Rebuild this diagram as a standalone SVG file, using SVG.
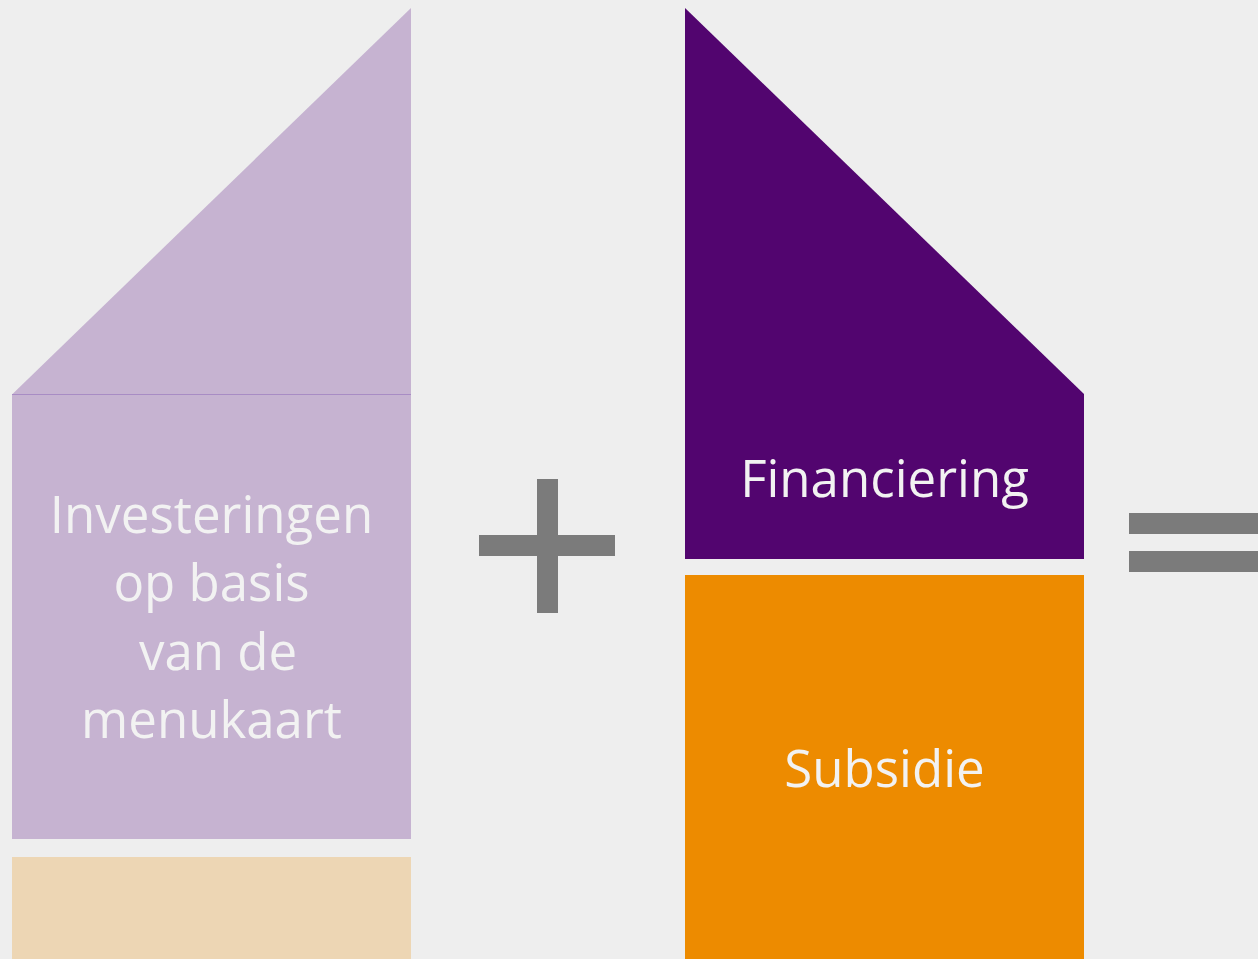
<svg xmlns="http://www.w3.org/2000/svg" width="1258" height="959" viewBox="0 0 1258 959">
<style>
.lbl{font-family:"Open Sans","Liberation Sans",sans-serif;font-size:51px;fill:#F2F2F2;text-anchor:middle}
.op{fill:#7B7B7B}
</style>
<rect x="0" y="0" width="1258" height="959" fill="#EEEEEE"/>
<g id="left-house">
<polygon points="12,394.5 411,8 411,394.5" fill="#C6B3D1"/>
<rect x="12" y="394" width="399" height="445" fill="#C6B3D1"/>
<line x1="12" y1="394.5" x2="411" y2="394.5" stroke="#A88CC4" stroke-width="1"/>
<text class="lbl"><tspan x="211.5" y="533">Investeringen</tspan><tspan x="211.5" y="601">op basis</tspan><tspan x="218" y="670">van de</tspan><tspan x="211.5" y="738">menukaart</tspan></text>
</g>
<g id="left-base">
<rect x="12" y="857" width="399" height="102" fill="#EDD6B4"/>
</g>
<g id="plus">
<rect class="op" x="479" y="535" width="136" height="21"/>
<rect class="op" x="537" y="479" width="21" height="134"/>
</g>
<g id="financiering">
<polygon points="685,8 1084,394 1084,559 685,559" fill="#52056F"/>
<text class="lbl" x="884.5" y="497">Financiering</text>
</g>
<g id="subsidie">
<rect x="685" y="575" width="399" height="384" fill="#ED8B00"/>
<text class="lbl" x="884.5" y="787">Subsidie</text>
</g>
<g id="equals">
<rect class="op" x="1129" y="513" width="129" height="21"/>
<rect class="op" x="1129" y="551" width="129" height="21"/>
</g>
<g id="connectors"/>
</svg>
